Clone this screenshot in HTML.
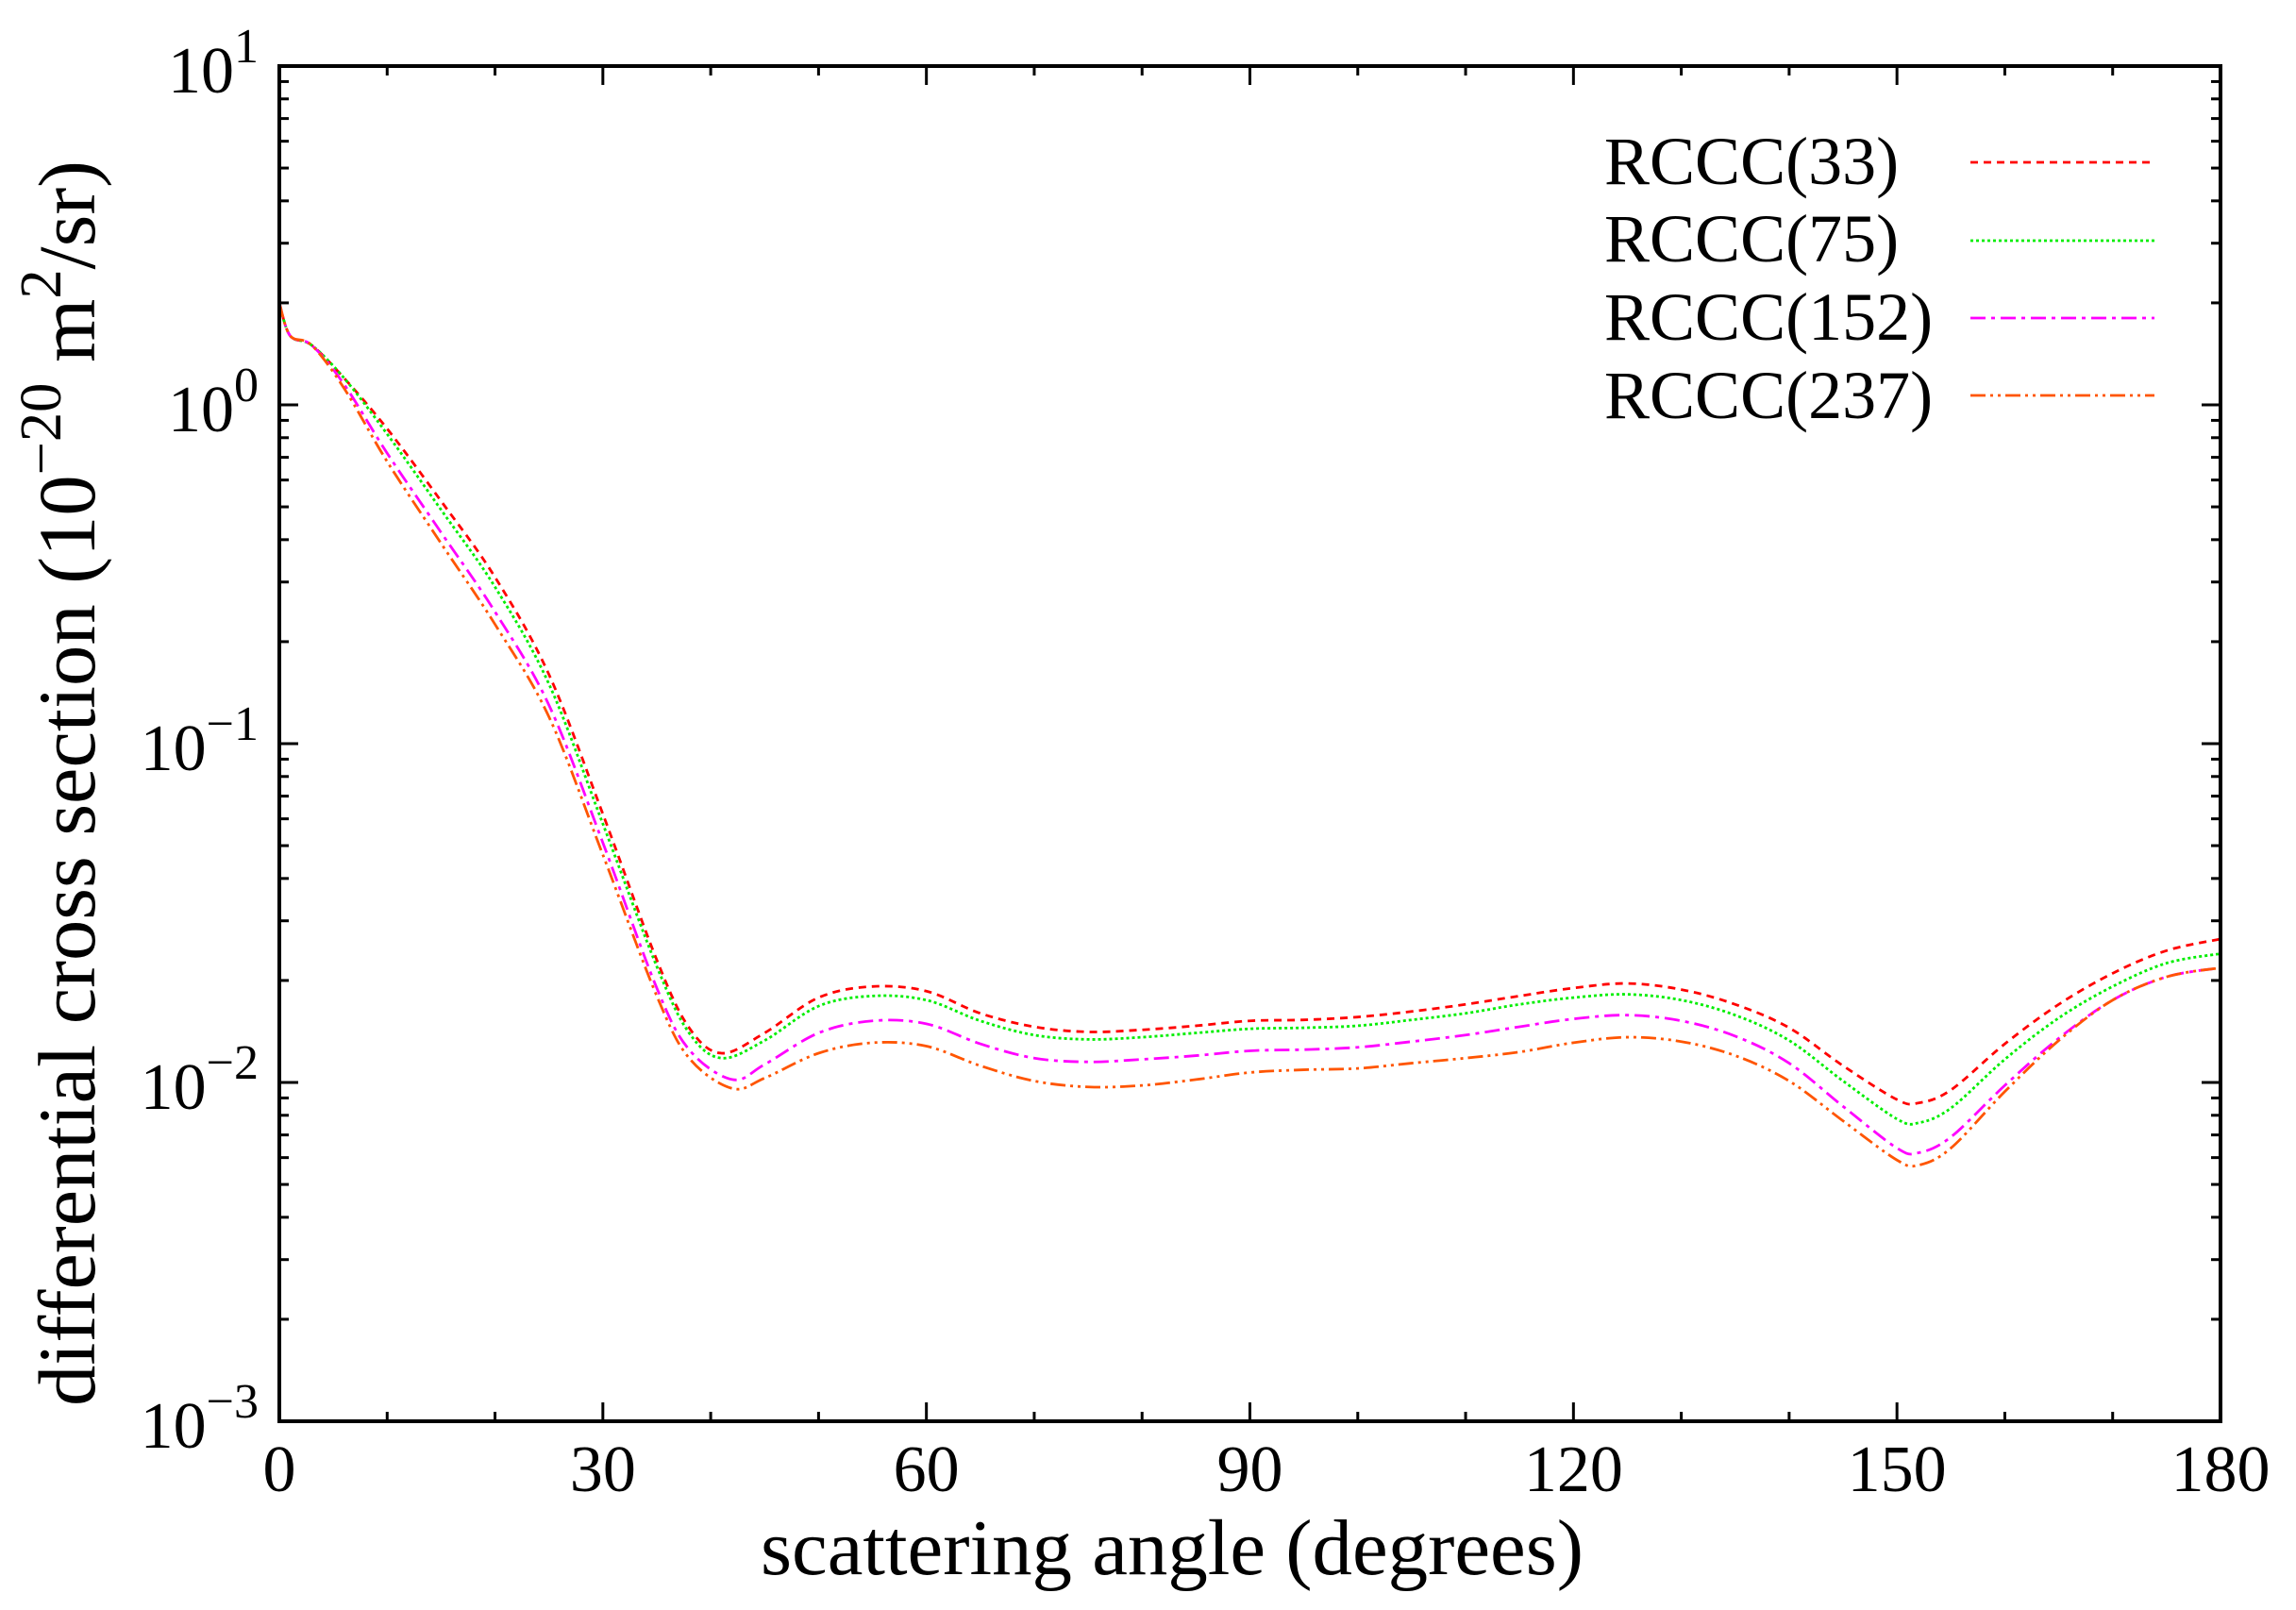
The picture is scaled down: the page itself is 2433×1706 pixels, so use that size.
<!DOCTYPE html>
<html><head><meta charset="utf-8"><style>
html,body{margin:0;padding:0;background:#fff;}
svg{display:block;}
text{font-family:"Liberation Serif",serif;fill:#000;}
</style></head><body>
<svg id="s" width="2433" height="1706" viewBox="0 0 2433 1706" xmlns="http://www.w3.org/2000/svg">
<g id="curves" fill="none" stroke-width="2.8"></g>
<rect x="296" y="70" width="2057" height="1436" fill="none" stroke="#000" stroke-width="4"/>
<g id="ticks" stroke="#000" stroke-width="3"></g>
<g id="labels" font-size="70"></g>
<text x="1242" y="1668" font-size="84" text-anchor="middle" textLength="872" lengthAdjust="spacingAndGlyphs">scattering angle (degrees)</text>
<text transform="translate(100,830) rotate(-90)" font-size="86" text-anchor="middle" textLength="1320" lengthAdjust="spacingAndGlyphs">differential cross section (10<tspan dy="-36" font-size="62">−20</tspan><tspan dy="36"> m</tspan><tspan dy="-36" font-size="62">2</tspan><tspan dy="36">/sr)</tspan></text>
<g font-size="72">
<text x="1700" y="195">RCCC(33)</text>
<text x="1700" y="277">RCCC(75)</text>
<text x="1700" y="360">RCCC(152)</text>
<text x="1700" y="443">RCCC(237)</text>
</g>
<g fill="none" stroke-width="2.8">
<line x1="2088" y1="172" x2="2281" y2="172" stroke="#ff0000" stroke-dasharray="8,6"/>
<line x1="2088" y1="255" x2="2283" y2="255" stroke="#00ee00" stroke-dasharray="3,3"/>
<line x1="2088" y1="337" x2="2283" y2="337" stroke="#ff00ff" stroke-dasharray="16,6,4,6"/>
<line x1="2088" y1="419" x2="2283" y2="419" stroke="#ff5500" stroke-dasharray="16,5,3,5,3,5"/>
</g>
</svg>
<script>
var L=296,R=2353,T=70,B=1506,D=359;
function X(a){return L+(R-L)*a/180;}
function Y(v){return T+(1-Math.log10(v))*D;}
var ns="http://www.w3.org/2000/svg";
function el(p,n,a,t){var e=document.createElementNS(ns,n);for(var k in a)e.setAttribute(k,a[k]);if(t!=null)e.textContent=t;p.appendChild(e);return e;}
var tk=document.getElementById('ticks'),lb=document.getElementById('labels');
for(var a=0;a<=180;a+=10){var x=X(a),len=(a%30==0)?20:10;
el(tk,'line',{x1:x,y1:B,x2:x,y2:B-len});el(tk,'line',{x1:x,y1:T,x2:x,y2:T+len});
if(a%30==0)el(lb,'text',{x:x,y:1580,'text-anchor':'middle'},String(a));}
for(var e=-3;e<=1;e++){for(var m=1;m<10;m++){if(e==1&&m>1)break;var y=Y(m*Math.pow(10,e)),len=m==1?20:10;
el(tk,'line',{x1:L,y1:y,x2:L+len,y2:y});el(tk,'line',{x1:R,y1:y,x2:R-len,y2:y});}
var y=Y(Math.pow(10,e));var t=el(lb,'text',{x:274,y:y+28,'text-anchor':'end'});
el(t,'tspan',{},'10');var s=el(t,'tspan',{dy:-32,'font-size':52},e<0?'−'+(-e):String(e));}
var S=[
["#ff0000","8,6",[[0,2],[1,1.6],[3,1.5],[6,1.2],[10,0.85],[15,0.52],[20,0.31],[25,0.16],[30,0.062],[35,0.023],[38,0.0145],[41,0.0122],[45,0.014],[50,0.0178],[55,0.0192],[60,0.0186],[65,0.016],[70,0.0146],[75,0.0141],[80,0.0143],[85,0.0147],[90,0.0152],[95,0.0153],[100,0.0156],[105,0.0162],[110,0.017],[115,0.018],[120,0.019],[125,0.0196],[130,0.0188],[135,0.017],[140,0.0145],[145,0.0112],[150,0.0089],[152,0.0087],[155,0.0095],[160,0.013],[165,0.017],[170,0.021],[175,0.0245],[180,0.0265]]],
["#00ee00","3,3",[[0,2],[1,1.6],[3,1.5],[6,1.2],[10,0.82],[15,0.49],[20,0.29],[25,0.15],[30,0.058],[35,0.022],[38,0.014],[41,0.0118],[45,0.0133],[50,0.0168],[55,0.018],[60,0.0175],[65,0.0152],[70,0.0138],[75,0.0134],[80,0.0136],[85,0.014],[90,0.0144],[95,0.0145],[100,0.0147],[105,0.0153],[110,0.016],[115,0.017],[120,0.0178],[125,0.0182],[130,0.0175],[135,0.0158],[140,0.0133],[145,0.0101],[150,0.0078],[152,0.0076],[155,0.0084],[160,0.0117],[165,0.0155],[170,0.0192],[175,0.0225],[180,0.024]]],
["#ff00ff","16,6,4,6",[[0,2],[1,1.6],[3,1.5],[6,1.15],[10,0.72],[15,0.42],[20,0.245],[25,0.13],[30,0.051],[35,0.019],[38,0.0125],[42,0.0102],[45,0.0113],[50,0.014],[55,0.0152],[60,0.0149],[65,0.013],[70,0.0118],[75,0.0115],[80,0.0117],[85,0.012],[90,0.0124],[95,0.0125],[100,0.0127],[105,0.0132],[110,0.0138],[115,0.0146],[120,0.0154],[125,0.0158],[130,0.0152],[135,0.0137],[140,0.0114],[145,0.0085],[150,0.0064],[152,0.0062],[155,0.0069],[160,0.0098],[165,0.0135],[170,0.0175],[175,0.0205],[180,0.0218]]],
["#ff5500","16,5,3,5,3,5",[[0,2],[1,1.6],[3,1.5],[6,1.12],[10,0.68],[15,0.39],[20,0.225],[25,0.12],[30,0.047],[35,0.018],[38,0.0118],[42,0.0096],[45,0.0103],[50,0.0122],[55,0.0131],[60,0.0128],[65,0.0112],[70,0.0101],[75,0.0097],[80,0.0098],[85,0.0102],[90,0.0107],[95,0.0109],[100,0.011],[105,0.0114],[110,0.0118],[115,0.0123],[120,0.0131],[125,0.0136],[130,0.0132],[135,0.012],[140,0.0101],[145,0.0077],[150,0.0059],[152,0.0057],[155,0.0064],[160,0.0094],[165,0.0133],[170,0.0175],[175,0.0205],[180,0.0218]]]];
var cg=document.getElementById('curves');
S.forEach(function(s){var p=s[2].map(function(q){return [X(q[0]),Y(q[1])];});
var d='M'+p[0][0]+','+p[0][1];
for(var i=0;i<p.length-1;i++){var p0=p[i-1]||p[i],p1=p[i],p2=p[i+1],p3=p[i+2]||p2;
var c1x=p1[0]+(p2[0]-p0[0])/6,c1y=p1[1]+(p2[1]-p0[1])/6,c2x=p2[0]-(p3[0]-p1[0])/6,c2y=p2[1]-(p3[1]-p1[1])/6;
d+=' C'+c1x+','+c1y+' '+c2x+','+c2y+' '+p2[0]+','+p2[1];}
el(cg,'path',{d:d,stroke:s[0],'stroke-dasharray':s[1]});});
</script>
</body></html>
